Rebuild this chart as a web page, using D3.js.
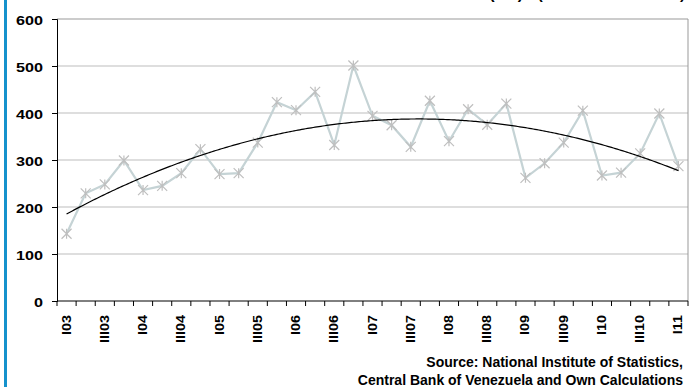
<!DOCTYPE html>
<meta charset="utf-8">
<style>
    body { margin: 0; background: #fff; }
    text { font-family: "Liberation Sans", Arial, sans-serif; font-weight: bold; fill: #000; }
</style>
<svg width="691" height="387"></svg>
<script src="https://cdn.jsdelivr.net/npm/d3@7/dist/d3.min.js"></script>
<script>

    // quarters I03 .. I11
    var quarters = ["I03", "II03", "III03", "IV03", "I04", "II04", "III04", "IV04",
        "I05", "II05", "III05", "IV05", "I06", "II06", "III06", "IV06",
        "I07", "II07", "III07", "IV07", "I08", "II08", "III08", "IV08",
        "I09", "II09", "III09", "IV09", "I10", "II10", "III10", "IV10", "I11"];

    var values = [143, 229, 248, 299, 236, 245, 272, 323,
        270, 272, 337, 423, 406, 445, 332, 501,
        394, 374, 328, 426, 340, 408, 375, 420,
        262, 293, 337, 405, 267, 273, 314, 399, 287];

    var yTicks = [0, 100, 200, 300, 400, 500, 600];

    var svg = d3.select("svg"),
        margin = {top: 19, right: 3, bottom: 86, left: 57},
        width = +svg.attr("width") - margin.left - margin.right,
        height = +svg.attr("height") - margin.top - margin.bottom;

    // blue bar on the left edge
    svg.append("rect")
        .attr("x", 4).attr("y", 0)
        .attr("width", 3).attr("height", 387)
        .attr("fill", "#1592cc");

    // title, cut off at the top like the original (only the brackets show)
    svg.append("text")
        .attr("x", 523).attr("y", -1)
        .attr("text-anchor", "end")
        .style("font-size", "16px")
        .text("Volume (TM)");
    svg.append("text")
        .attr("x", 685).attr("y", -1)
        .attr("text-anchor", "end")
        .style("font-size", "15px")
        .text("(Thousands of Tons)");

    var g = svg.append("g")
        .attr("transform", "translate(" + margin.left + "," + margin.top + ")");

    var x = d3.scaleBand().domain(quarters).range([0, width]);
    var y = d3.scaleLinear().domain([0, 600]).range([height, 0]);

    // gridlines
    g.selectAll(".grid")
        .data(yTicks.filter(function (d) { return d > 0 && d < 600; }))
        .enter().append("line")
        .attr("x1", 0).attr("x2", width)
        .attr("y1", function (d) { return y(d); })
        .attr("y2", function (d) { return y(d); })
        .attr("stroke", "#bdbdbd");

    // plot border top / right
    g.append("path")
        .attr("d", "M0," + y(600) + "H" + width + "V" + height)
        .attr("fill", "none")
        .attr("stroke", "#999");

    // y axis (labels drawn by hand, they are stretched wide)
    var yAxis = g.append("g")
        .call(d3.axisLeft(y).tickValues(yTicks).tickSize(5).tickFormat(""));
    yAxis.select(".domain").attr("stroke", "#000");
    yAxis.selectAll(".tick line").attr("stroke", "#000");
    g.selectAll(".ylab")
        .data(yTicks)
        .enter().append("text")
        .attr("transform", function (d) {
            return "translate(-14," + (y(d) + 5.5) + ") scale(1.35,1)";
        })
        .attr("text-anchor", "end")
        .style("font-size", "12px")
        .text(function (d) { return d; });

    // x axis: ticks at band edges
    var xAxis = g.append("g").attr("transform", "translate(0," + height + ")");
    xAxis.append("line")
        .attr("x1", 0).attr("x2", width)
        .attr("stroke", "#000");
    xAxis.selectAll(".xt")
        .data(d3.range(quarters.length + 1))
        .enter().append("line")
        .attr("x1", function (i) { return i * x.step(); })
        .attr("x2", function (i) { return i * x.step(); })
        .attr("y1", 0).attr("y2", 5)
        .attr("stroke", "#000");
    xAxis.selectAll(".xl")
        .data(quarters.filter(function (d, i) { return i % 2 === 0; }))
        .enter().append("text")
        .attr("transform", function (d) {
            return "translate(" + (x(d) + x.bandwidth() / 2 + 4) + ",14) rotate(-90) scale(1.2,1)";
        })
        .attr("text-anchor", "end")
        .style("font-size", "12px")
        .text(function (d) { return d; });

    // series line
    var cx = function (i) { return x(quarters[i]) + x.bandwidth() / 2; };
    var line = d3.line()
        .x(function (d, i) { return cx(i); })
        .y(function (d) { return y(d); });

    g.append("path")
        .datum(values)
        .attr("d", line)
        .attr("fill", "none")
        .attr("stroke", "#c5d3d5")
        .attr("stroke-width", 2.2);

    // asterisk markers
    g.selectAll(".mk")
        .data(values)
        .enter().append("path")
        .attr("d", function (d, i) {
            var px = cx(i), py = y(d), r = 5;
            return "M" + (px - r) + "," + (py - r) + "L" + (px + r) + "," + (py + r) +
                "M" + (px - r) + "," + (py + r) + "L" + (px + r) + "," + (py - r) +
                "M" + px + "," + (py - r) + "L" + px + "," + (py + r);
        })
        .attr("stroke", "#bfbfbf")
        .attr("stroke-width", 1.2)
        .attr("fill", "none");

    // polynomial (order 2) trendline, least squares on index 1..n
    var n = values.length, S = [0, 0, 0, 0, 0], T = [0, 0, 0];
    values.forEach(function (v, i) {
        var t = i + 1;
        for (var k = 0; k < 5; k++) S[k] += Math.pow(t, k);
        for (var k = 0; k < 3; k++) T[k] += v * Math.pow(t, k);
    });
    var A = [[S[0], S[1], S[2], T[0]], [S[1], S[2], S[3], T[1]], [S[2], S[3], S[4], T[2]]];
    for (var c = 0; c < 3; c++) {
        for (var r = c + 1; r < 3; r++) {
            var f = A[r][c] / A[c][c];
            for (var k = c; k < 4; k++) A[r][k] -= f * A[c][k];
        }
    }
    var coef = [0, 0, 0];
    for (var r = 2; r >= 0; r--) {
        var s = A[r][3];
        for (var k = r + 1; k < 3; k++) s -= A[r][k] * coef[k];
        coef[r] = s / A[r][r];
    }
    var trend = d3.range(0, n - 1 + 0.001, 0.1).map(function (i) {
        var t = i + 1;
        return {i: i, v: coef[0] + coef[1] * t + coef[2] * t * t};
    });
    g.append("path")
        .datum(trend)
        .attr("d", d3.line()
            .x(function (d) { return cx(0) + d.i * x.step(); })
            .y(function (d) { return y(d.v); }))
        .attr("fill", "none")
        .attr("stroke", "#000")
        .attr("stroke-width", 1.2);

    // source note
    svg.append("text")
        .attr("x", 683).attr("y", 367)
        .attr("text-anchor", "end")
        .style("font-size", "14px")
        .text("Source: National Institute of Statistics,");
    svg.append("text")
        .attr("x", 683).attr("y", 385)
        .attr("text-anchor", "end")
        .style("font-size", "14px")
        .text("Central Bank of Venezuela and Own Calculations");
</script>
